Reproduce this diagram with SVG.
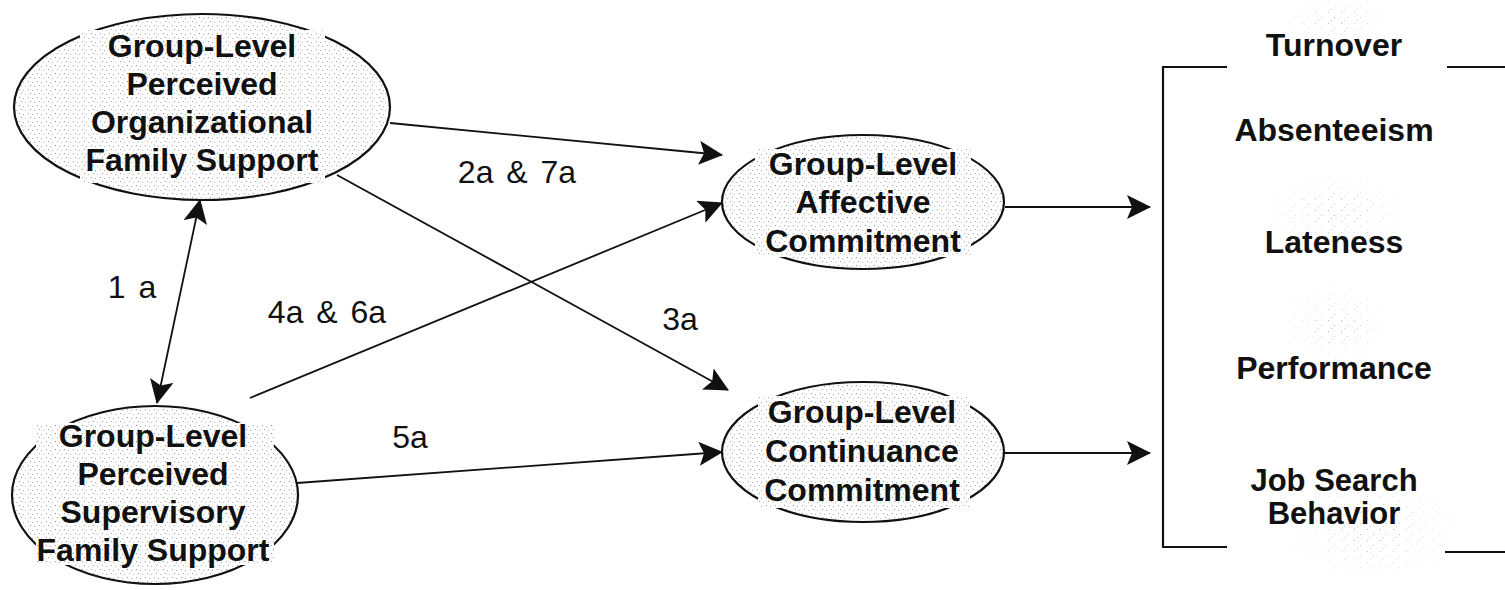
<svg xmlns="http://www.w3.org/2000/svg" width="1505" height="590" viewBox="0 0 1505 590">
  <style>
    .node-shape { fill: url(#stipple); stroke: #111; stroke-width: 2.2; }
    .label-bg { fill: url(#stipple); stroke: none; }
    .node-text { font-family: "Liberation Sans", Arial, sans-serif; font-size: 32px; font-weight: bold; fill: #111; text-anchor: middle; }
    .edge-label { font-family: "Liberation Sans", Arial, sans-serif; font-size: 32px; fill: #111; text-anchor: middle; word-spacing: 4px; }
    .edge { fill: none; stroke: #111; stroke-width: 1.8; }
    .frame { fill: none; stroke: #111; stroke-width: 2.2; }
    .haze { fill: url(#stipple-sparse); stroke: none; mask: url(#fade); }
  </style>
  <defs>
    <!-- light halftone texture used inside the ovals -->
    <pattern id="stipple" width="9" height="8" patternUnits="userSpaceOnUse">
      <rect width="9" height="8" fill="#ffffff"/>
      <rect x="1" y="1" width="1" height="1" fill="#9a9a9a"/>
      <rect x="5" y="2" width="1" height="1" fill="#b0b0b0"/>
      <rect x="3" y="5" width="1" height="1" fill="#a5a5a5"/>
      <rect x="7" y="6" width="1" height="1" fill="#c0c0c0"/>
    </pattern>
    <pattern id="stipple-sparse" width="13" height="11" patternUnits="userSpaceOnUse">
      <rect x="2" y="1" width="1" height="1" fill="#a0a0a0"/>
      <rect x="8" y="6" width="1" height="1" fill="#b0b0b0"/>
      <rect x="5" y="9" width="1" height="1" fill="#b8b8b8"/>
    </pattern>
    <radialGradient id="fade-grad">
      <stop offset="0" stop-color="#fff" stop-opacity="0.9"/>
      <stop offset="1" stop-color="#fff" stop-opacity="0"/>
    </radialGradient>
    <mask id="fade" maskContentUnits="objectBoundingBox">
      <rect width="1" height="1" fill="url(#fade-grad)"/>
    </mask>
    <marker id="head" viewBox="0 0 24 24" markerWidth="24" markerHeight="24" refX="23" refY="12" orient="auto-start-reverse" markerUnits="userSpaceOnUse">
      <path d="M0,0 L24,12 L0,24 L5,12 Z" fill="#111"/>
    </marker>
  </defs>

  <rect width="1505" height="590" fill="#ffffff"/>

  <!-- faint texture around the outcome list -->
  <ellipse class="haze" cx="1372" cy="528" rx="100" ry="62"/>
  <ellipse class="haze" cx="1335" cy="215" rx="80" ry="50"/>
  <ellipse class="haze" cx="1335" cy="325" rx="60" ry="45"/>
  <ellipse class="haze" cx="1335" cy="20" rx="60" ry="30"/>

  <g id="connectors">
    <line class="edge" x1="390" y1="123" x2="722" y2="155" marker-end="url(#head)"/>
    <line class="edge" x1="337" y1="175" x2="728" y2="390" marker-end="url(#head)"/>
    <line class="edge" x1="250" y1="398" x2="722" y2="203" marker-end="url(#head)"/>
    <line class="edge" x1="297" y1="483" x2="722" y2="452" marker-end="url(#head)"/>
    <line class="edge" x1="200" y1="200" x2="157" y2="403" marker-start="url(#head)" marker-end="url(#head)"/>
    <line class="edge" x1="1005" y1="207" x2="1150" y2="207" marker-end="url(#head)"/>
    <line class="edge" x1="1005" y1="453" x2="1150" y2="453" marker-end="url(#head)"/>
  </g>

  <g id="edge-labels">
    <text class="edge-label" x="517" y="183">2a &amp; 7a</text>
    <text class="edge-label" x="132" y="298">1 a</text>
    <text class="edge-label" x="327" y="323">4a &amp; 6a</text>
    <text class="edge-label" x="680" y="330">3a</text>
    <text class="edge-label" x="410" y="448">5a</text>
  </g>

  <g id="org-support">
    <ellipse class="node-shape" cx="202" cy="107" rx="188" ry="93"/>
    <rect class="label-bg" x="80" y="30" width="245" height="153"/>
    <text class="node-text" x="202" y="57">Group-Level</text>
    <text class="node-text" x="202" y="95">Perceived</text>
    <text class="node-text" x="202" y="133">Organizational</text>
    <text class="node-text" x="202" y="171">Family Support</text>
  </g>

  <g id="sup-support">
    <ellipse class="node-shape" cx="155" cy="495" rx="143" ry="89"/>
    <rect class="label-bg" x="36" y="423" width="238" height="142"/>
    <text class="node-text" x="153" y="447">Group-Level</text>
    <text class="node-text" x="153" y="485">Perceived</text>
    <text class="node-text" x="153" y="523">Supervisory</text>
    <text class="node-text" x="153" y="561">Family Support</text>
  </g>

  <g id="affective">
    <ellipse class="node-shape" cx="863" cy="202" rx="141" ry="67"/>
    <rect class="label-bg" x="755" y="149" width="216" height="108"/>
    <text class="node-text" x="863" y="175">Group-Level</text>
    <text class="node-text" x="863" y="213">Affective</text>
    <text class="node-text" x="863" y="252">Commitment</text>
  </g>

  <g id="continuance">
    <ellipse class="node-shape" cx="863" cy="452" rx="141" ry="70"/>
    <rect class="label-bg" x="758" y="396" width="212" height="112"/>
    <text class="node-text" x="862" y="423">Group-Level</text>
    <text class="node-text" x="862" y="462">Continuance</text>
    <text class="node-text" x="862" y="501">Commitment</text>
  </g>

  <g id="outcomes">
    <path class="frame" d="M1227,67 H1163 V547 H1227"/>
    <path class="frame" d="M1447,67 H1505"/>
    <path class="frame" d="M1445,552 H1505"/>
    <text class="node-text" x="1334" y="56">Turnover</text>
    <text class="node-text" x="1334" y="141">Absenteeism</text>
    <text class="node-text" x="1334" y="253">Lateness</text>
    <text class="node-text" x="1334" y="379">Performance</text>
    <text class="node-text" x="1334" y="491" style="font-size:31px">Job Search</text>
    <text class="node-text" x="1334" y="524" style="font-size:31px">Behavior</text>
  </g>
</svg>
